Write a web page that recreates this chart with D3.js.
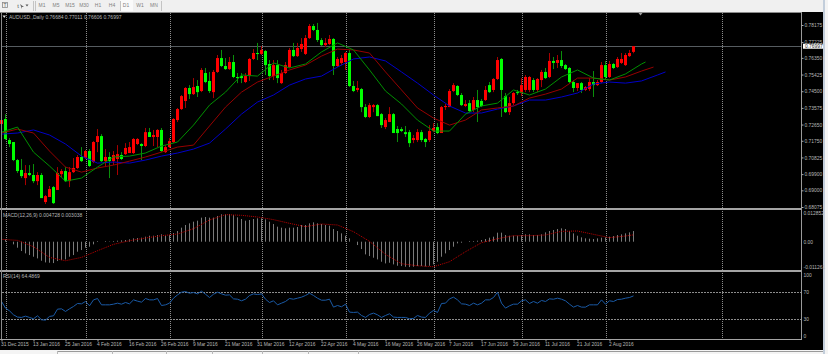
<!DOCTYPE html>
<html>
<head>
<meta charset="utf-8">
<script src="https://cdnjs.cloudflare.com/ajax/libs/d3/7.8.5/d3.min.js"></script>
<style>
html, body { margin:0; padding:0; background:#000; overflow:hidden; }
text { font-family:"Liberation Sans", Arial, sans-serif; }
</style>
</head>
<body>
<div id="chart"></div>
<script>
// ---------- data
var barOpen = [.7268,.7296,.7179,.7168,.7068,.7013,.6968,.6996,.6985,.6951,.6985,.6835,.6863,.6918,.6902,.6990,.7007,.6951,.7001,.7024,
.7085,.7079,.7118,.7057,.7168,.7201,.7062,.7085,.7062,.7074,.7096,.7101,.7107,.7107,.7157,.7157,.7146,.7223,.7196,.7196,
.7235,.7112,.7140,.7168,.7290,.7351,.7396,.7468,.7434,.7479,.7451,.7551,.7507,.7445,.7557,.7634,.7590,.7573,.7612,.7529,
.7534,.7501,.7534,.7629,.7662,.7657,.7673,.7601,.7534,.7595,.7495,.7551,.7584,.7679,.7645,.7684,.7657,.7745,.7812,.7790,
.7734,.7706,.7712,.7740,.7590,.7607,.7612,.7662,.7479,.7457,.7462,.7362,.7307,.7362,.7373,.7323,.7251,.7279,.7323,.7240,
.7240,.7223,.7223,.7179,.7179,.7223,.7185,.7179,.7229,.7251,.7218,.7362,.7362,.7451,.7479,.7429,.7368,.7384,.7346,.7401,
.7396,.7401,.7484,.7457,.7518,.7629,.7423,.7334,.7384,.7445,.7440,.7457,.7457,.7512,.7457,.7512,.7557,.7529,.7618,.7607,
.7623,.7595,.7579,.7501,.7468,.7495,.7457,.7462,.7501,.7484,.7501,.7595,.7529,.7601,.7584,.7607,.7595,.7645,.76684];

var barHigh = [.7301,.7323,.7190,.7168,.7074,.7074,.7040,.7040,.7046,.7001,.6996,.6874,.6924,.6924,.7029,.7018,.7029,.7029,.7079,.7096,
.7140,.7124,.7129,.7173,.7240,.7212,.7129,.7112,.7118,.7151,.7112,.7162,.7168,.7190,.7190,.7162,.7246,.7246,.7235,.7240,
.7246,.7151,.7190,.7301,.7357,.7429,.7473,.7484,.7523,.7512,.7579,.7579,.7557,.7568,.7651,.7679,.7634,.7640,.7651,.7551,
.7551,.7551,.7634,.7684,.7718,.7701,.7679,.7623,.7623,.7623,.7568,.7612,.7690,.7718,.7718,.7745,.7762,.7823,.7823,.7829,
.7745,.7745,.7762,.7745,.7640,.7651,.7668,.7679,.7507,.7507,.7468,.7379,.7384,.7379,.7379,.7329,.7301,.7362,.7329,.7257,
.7251,.7257,.7235,.7207,.7240,.7235,.7190,.7262,.7273,.7273,.7368,.7379,.7462,.7495,.7484,.7440,.7401,.7401,.7418,.7457,
.7407,.7479,.7501,.7523,.7640,.7634,.7440,.7418,.7445,.7457,.7523,.7540,.7534,.7523,.7523,.7568,.7579,.7662,.7640,.7651,
.7673,.7601,.7584,.7512,.7495,.7501,.7479,.7523,.7562,.7512,.7612,.7618,.7618,.7607,.7640,.7662,.7662,.7679,.77011];

var barLow = [.7251,.7179,.7140,.7062,.6996,.6968,.6929,.6979,.6940,.6929,.6857,.6824,.6863,.6824,.6902,.6974,.6946,.6918,.6996,.7018,
.7057,.7074,.7029,.7051,.7112,.7057,.7029,.6968,.7040,.6985,.7068,.7096,.7107,.7101,.7151,.7068,.7140,.7196,.7146,.7140,
.7112,.7107,.7135,.7162,.7279,.7346,.7357,.7407,.7429,.7418,.7445,.7495,.7440,.7412,.7551,.7584,.7568,.7568,.7523,.7495,
.7495,.7495,.7507,.7623,.7623,.7651,.7540,.7512,.7512,.7495,.7490,.7546,.7579,.7640,.7640,.7668,.7651,.7740,.7784,.7723,
.7701,.7695,.7706,.7540,.7584,.7595,.7568,.7473,.7445,.7445,.7334,.7301,.7301,.7334,.7312,.7246,.7240,.7279,.7218,.7168,
.7223,.7196,.7140,.7162,.7168,.7168,.7140,.7168,.7223,.7212,.7218,.7346,.7362,.7445,.7423,.7368,.7362,.7334,.7334,.7279,
.7362,.7396,.7440,.7445,.7512,.7307,.7329,.7318,.7373,.7429,.7423,.7445,.7445,.7445,.7445,.7473,.7518,.7523,.7573,.7579,
.7579,.7568,.7495,.7445,.7451,.7440,.7451,.7451,.7418,.7479,.7495,.7512,.7523,.7573,.7579,.7601,.7590,.7640,.76606];

var barClose = [.7290,.7185,.7157,.7068,.7007,.6979,.6996,.6985,.6951,.6985,.6857,.6868,.6907,.6829,.6996,.7007,.6951,.7001,.7024,.7085,
.7062,.7118,.7035,.7168,.7201,.7062,.7085,.7062,.7096,.7101,.7074,.7135,.7140,.7185,.7185,.7146,.7223,.7196,.7207,.7235,
.7118,.7140,.7173,.7296,.7351,.7423,.7468,.7434,.7473,.7445,.7568,.7501,.7451,.7557,.7634,.7590,.7573,.7612,.7529,.7523,
.7523,.7534,.7629,.7662,.7657,.7679,.7595,.7534,.7595,.7523,.7551,.7595,.7679,.7645,.7690,.7712,.7745,.7812,.7790,.7734,
.7706,.7718,.7740,.7590,.7629,.7634,.7662,.7479,.7451,.7468,.7362,.7307,.7373,.7373,.7312,.7262,.7290,.7323,.7218,.7218,
.7229,.7212,.7162,.7190,.7223,.7179,.7168,.7229,.7246,.7218,.7362,.7368,.7451,.7484,.7429,.7373,.7379,.7340,.7401,.7362,
.7368,.7457,.7445,.7518,.7623,.7457,.7334,.7384,.7440,.7440,.7484,.7529,.7529,.7457,.7518,.7557,.7523,.7618,.7607,.7623,
.7590,.7573,.7501,.7468,.7495,.7457,.7473,.7501,.7484,.7501,.7595,.7529,.7601,.7579,.7629,.7629,.7651,.7662,.76997];

// moving averages, one reading every 4 bars plus the line ends
var fastMaBars = d3.range(0,161,4).concat([161]);
var fastMa = [.7223,.7251,.7112,.7035,.6951,.6968,.7029,.7085,.7090,.7107,.7146,.7168,.7262,.7373,.7445,.7540,.7534,.7607,.7579,.7601,
.7668,.7718,.7679,.7568,.7451,.7379,.7290,.7229,.7229,.7323,.7368,.7384,.7457,.7429,.7462,.7529,.7568,.7523,.7512,.7546,.7601,.7612];

var midMaBars = d3.range(0,161,4).concat([163]);
var midMa = [.7218,.7240,.7218,.7118,.7029,.7001,.7024,.7040,.7062,.7085,.7112,.7140,.7151,.7257,.7362,.7445,.7501,.7534,.7568,.7595,
.7645,.7684,.7679,.7662,.7557,.7457,.7357,.7301,.7262,.7290,.7346,.7357,.7368,.7412,.7434,.7462,.7523,.7523,.7512,.7529,.7562,.7584];

var slowMaBars = d3.range(0,161,4).concat([164,166]);
var slowMa = [.7212,.7218,.7235,.7207,.7157,.7090,.7051,.7057,.7051,.7068,.7090,.7107,.7129,.7162,.7240,.7323,.7390,.7429,.7484,.7518,
.7534,.7584,.7629,.7640,.7618,.7557,.7495,.7429,.7368,.7329,.7329,.7351,.7368,.7401,.7401,.7418,.7440,.7490,.7501,.7495,.7507,.7540,.7557];

var macdHist = [.00148,.00104,0,-.00118,-.00266,-.00414,-.00518,-.00592,-.00666,-.00740,-.00844,-.00918,-.00932,-.00947,-.00858,-.00814,-.00784,-.00666,-.00592,-.00444,
-.00370,-.00266,-.00222,-.00118,.00030,0,.00030,.00015,.00030,.00044,.00059,.00074,.00104,.00148,.00163,.00178,.00222,.00266,.00266,.00296,
.00326,.00266,.00296,.00385,.00474,.00622,.00740,.00814,.00888,.00932,.01066,.01095,.01066,.01066,.01140,.01214,.01214,.01228,.01184,.01080,
.01006,.00932,.00962,.01006,.01036,.01036,.00992,.00888,.00784,.00666,.00622,.00592,.00622,.00622,.00651,.00740,.00740,.00814,.00858,.00814,
.00784,.00740,.00710,.00562,.00474,.00370,.00266,.00148,0,-.00148,-.00326,-.00562,-.00636,-.00710,-.00784,-.00888,-.00962,-.00932,-.01006,-.01066,
-.01080,-.01110,-.01125,-.01110,-.01080,-.01080,-.01095,-.01066,-.01006,-.00888,-.00666,-.00518,-.00370,-.00222,-.00074,-.00044,0,.00030,.00030,.00044,
.00074,.00118,.00178,.00222,.00400,.00400,.00296,.00266,.00266,.00266,.00296,.00326,.00326,.00296,.00296,.00326,.00414,.00474,.00518,.00562,
.00592,.00562,.00474,.00370,.00266,.00192,.00148,.00133,.00118,.00148,.00178,.00192,.00222,.00252,.00296,.00326,.00370,.00414,.004728];

var macdSignalBars = d3.range(0,157,4).concat([158]);
var macdSignal = [.00104,.00059,-.00222,-.00696,-.00844,-.00696,-.00400,-.00118,.00044,.00163,.00266,.00340,.00577,.00962,.01199,.01169,.01095,.00977,.00814,.00666,
.00784,.00740,.00444,.00015,-.00562,-.00977,-.01066,-.01110,-.00888,-.00444,-.00044,.00133,.00266,.00266,.00296,.00459,.00474,.00326,.00178,.00252,.003038];

var rsiValues = [56.2,46.3,42.3,36.4,33.0,32.5,34.4,32.5,30.5,34.9,29.0,28.5,34.0,34.9,44.8,45.3,41.4,45.3,48.8,53.2,
52.7,56.2,49.8,58.6,60.6,51.2,51.2,51.2,52.2,53.7,52.2,54.7,52.7,58.6,56.7,55.2,60.6,58.6,58.6,60.6,
50.2,51.2,53.7,61.1,66.0,70.0,71.0,68.5,69.5,67.5,71.5,67.0,62.1,67.0,70.0,67.5,65.6,66.0,60.1,59.6,
57.2,59.6,65.1,67.5,66.5,67.5,59.6,54.7,57.2,51.2,53.7,56.2,60.6,59.6,61.1,62.6,65.1,68.5,65.1,61.1,
58.1,58.1,59.6,47.8,50.2,48.3,52.2,40.4,39.9,40.4,35.4,32.5,36.9,38.9,36.4,32.5,35.4,37.9,33.0,32.5,
32.5,32.5,30.5,31.0,35.4,33.0,32.5,38.9,42.8,39.9,53.2,53.7,60.1,62.6,58.6,52.7,52.2,50.2,53.7,51.2,
53.7,58.6,58.6,62.1,70.0,53.7,46.3,49.8,52.2,52.2,57.2,58.6,53.2,56.2,53.7,57.7,56.2,60.1,59.6,61.1,
59.6,57.2,52.2,47.8,50.2,47.8,47.8,51.2,51.2,51.2,58.6,52.2,57.2,56.2,59.1,59.6,61.1,62.1,64.49];

var dateLabels = ["31 Dec 2015","13 Jan 2016","25 Jan 2016","4 Feb 2016","16 Feb 2016","26 Feb 2016","9 Mar 2016","21 Mar 2016","31 Mar 2016","12 Apr 2016",
"22 Apr 2016","4 May 2016","16 May 2016","26 May 2016","7 Jun 2016","17 Jun 2016","29 Jun 2016","11 Jul 2016","21 Jul 2016","2 Aug 2016"];
var dateBars = d3.range(0,153,8);
var gridBars = [1,21,42,65,86,108,130,151,180];

var priceTicks = [.78175,.77225,.76350,.75425,.74500,.73575,.72650,.71750,.70825,.69900,.69000,.68075];
var macdTicks = [.012852,0,-.011261];
var macdTickLabels = ["0.012852","0.00","-0.011261"];
var rsiTicks = [100,70,30,0];
var rsiLevels = [70,30];
var lastPrice = .76997;
var timeframes = ["M1","M5","M15","M30","H1","H4","D1","W1","MN"];

var w = 828, h = 354;
var plotRight = 801.5;
var labelColor = "#b8b8b8";

var svg = d3.select("#chart")
    .append("svg")
    .attr("width", w)
    .attr("height", h)
    .style("display", "block");

svg.append("rect").attr("width", w).attr("height", h).attr("fill", "#000");

// ---------- scales
var x = d3.scaleLinear().domain([0,200]).range([1.5,801.5]);
var yPrice = d3.scaleLinear().domain([.68075,.78175]).range([207,25]);
var yMacd = d3.scaleLinear().domain([-.011261,.012852]).range([267.1,212.7]);
var yRsi = d3.scaleLinear().domain([0,100]).range([339.3,272]);

// ---------- window frame around the chart
svg.append("rect").attr("width", w).attr("height", 12).attr("fill", "#f0f0f0");
svg.append("rect").attr("x", 120).attr("y", 0).attr("width", 13).attr("height", 11).attr("fill", "#fafafa");
[33,35,120,161].forEach(function(d){
    svg.append("line").attr("x1", d+.5).attr("x2", d+.5).attr("y1", 1).attr("y2", 11)
        .attr("stroke", "#c4c4c4").attr("stroke-width", 1);
});
svg.append("rect").attr("x", 2.5).attr("y", 2.5).attr("width", 5).attr("height", 5)
    .attr("fill", "none").attr("stroke", "#8a8a8a").attr("stroke-width", .8);
svg.append("text").attr("x", 5).attr("y", 7).attr("font-size", 5).attr("text-anchor", "middle").attr("fill", "#666").text("T");
svg.append("text").attr("x", 18).attr("y", 7.5).attr("font-size", 6).attr("text-anchor", "middle").attr("fill", "#555").text("t");
svg.append("path").attr("d", "M20,4 l4,3 l-2,0 l0,2 z").attr("fill", "#666");
svg.append("path").attr("d", "M25.5,4.5 l3,0 l-1.5,2 z").attr("fill", "#555");

svg.selectAll(".timeframe")
    .data(timeframes)
    .enter()
    .append("text")
    .attr("class", "timeframe")
    .attr("x", function(d,i){ return 42 + i*14; })
    .attr("y", 7)
    .attr("font-size", 5)
    .attr("text-anchor", "middle")
    .attr("fill", "#808080")
    .text(function(d){ return d; });

// bottom tabs and right scrollbar
svg.append("rect").attr("y", 350).attr("width", w).attr("height", 4).attr("fill", "#f4f4f4");
svg.append("line").attr("x1", 57).attr("x2", 823).attr("y1", 351.5).attr("y2", 351.5).attr("stroke", "#9a9a9a");
[57,112,166,212,262,308,358].forEach(function(d){
    svg.append("line").attr("x1", d+.5).attr("x2", d+.5).attr("y1", 351).attr("y2", 354).attr("stroke", "#b8b8b8");
});
svg.append("rect").attr("x", 823).attr("width", 5).attr("height", h).attr("fill", "#f4f4f4");
svg.append("rect").attr("x", 823).attr("y", 0).attr("width", 2).attr("height", h).attr("fill", "#c3cedb");

// ---------- grid
svg.selectAll(".grid")
    .data(gridBars)
    .enter()
    .append("line")
    .attr("class", "grid")
    .attr("x1", function(d){ return Math.round(x(d)) + .5; })
    .attr("x2", function(d){ return Math.round(x(d)) + .5; })
    .attr("y1", 13)
    .attr("y2", 339)
    .attr("stroke", "#8c8c8c")
    .attr("stroke-width", 1)
    .attr("stroke-dasharray", "1,1");

svg.selectAll(".rsi-level")
    .data(rsiLevels)
    .enter()
    .append("line")
    .attr("class", "rsi-level")
    .attr("x1", 2)
    .attr("x2", plotRight)
    .attr("y1", function(d){ return Math.round(yRsi(d)) + .5; })
    .attr("y2", function(d){ return Math.round(yRsi(d)) + .5; })
    .attr("stroke", "#8c8c8c")
    .attr("stroke-width", 1)
    .attr("stroke-dasharray", "2,1");

// price line
svg.append("line")
    .attr("x1", 1)
    .attr("x2", plotRight)
    .attr("y1", Math.round(yPrice(lastPrice)) + .5)
    .attr("y2", Math.round(yPrice(lastPrice)) + .5)
    .attr("stroke", "#565c60")
    .attr("stroke-width", 1);

// ---------- candles
var candles = svg.append("g").attr("class", "candles");
var upColor = "#ff0000", downColor = "#00ff00";
var upWick = "#a80000", downWick = "#0a8f0a";

barOpen.forEach(function(o,i){
    var up = barClose[i] >= o;
    candles.append("line")
        .attr("x1", x(i))
        .attr("x2", x(i))
        .attr("y1", yPrice(barHigh[i]))
        .attr("y2", yPrice(barLow[i]))
        .attr("stroke", up ? upWick : downWick)
        .attr("stroke-width", 1);

    candles.append("rect")
        .attr("x", x(i) - 1.5)
        .attr("y", yPrice(Math.max(o, barClose[i])))
        .attr("width", 3)
        .attr("height", Math.max(1, Math.abs(yPrice(o) - yPrice(barClose[i]))))
        .attr("fill", up ? upColor : downColor);
});

// ---------- moving averages
function maLine(bars, values, color) {
    var line = d3.line()
        .x(function(d,i){ return x(bars[i]); })
        .y(function(d){ return yPrice(d); });
    svg.append("path")
        .attr("d", line(values))
        .attr("fill", "none")
        .attr("stroke", color)
        .attr("stroke-width", 1);
}
maLine(slowMaBars, slowMa, "#0000c8");
maLine(midMaBars, midMa, "#960000");
maLine(fastMaBars, fastMa, "#009000");

// ---------- MACD
svg.selectAll(".macd-bar")
    .data(macdHist)
    .enter()
    .append("rect")
    .attr("class", "macd-bar")
    .attr("x", function(d,i){ return x(i) - .5; })
    .attr("y", function(d){ return Math.min(yMacd(d), yMacd(0)); })
    .attr("width", 1)
    .attr("height", function(d){ return Math.abs(yMacd(d) - yMacd(0)); })
    .attr("fill", "#7a7a7a");

var signalLine = d3.line()
    .x(function(d,i){ return x(macdSignalBars[i]); })
    .y(function(d){ return yMacd(d); });
svg.append("path")
    .attr("d", signalLine(macdSignal))
    .attr("fill", "none")
    .attr("stroke", "#c00000")
    .attr("stroke-width", 1)
    .attr("stroke-dasharray", "1,1");

// ---------- RSI
var rsiLine = d3.line()
    .x(function(d,i){ return x(i); })
    .y(function(d){ return yRsi(d); });
svg.append("path")
    .attr("d", rsiLine(rsiValues))
    .attr("fill", "none")
    .attr("stroke", "#1a5aa6")
    .attr("stroke-width", 1);

// ---------- panel separators and outer lines
[208,270].forEach(function(d){
    svg.append("rect").attr("x", 0).attr("y", d).attr("width", plotRight + .5).attr("height", 2).attr("fill", "#a4a4a4");
});
svg.append("line").attr("x1", 1.5).attr("x2", 1.5).attr("y1", 12).attr("y2", 340).attr("stroke", "#8a8a8a");
svg.append("line").attr("x1", 0).attr("x2", plotRight).attr("y1", 12.5).attr("y2", 12.5).attr("stroke", "#8a8a8a");
svg.append("line").attr("x1", plotRight).attr("x2", plotRight).attr("y1", 12).attr("y2", 340).attr("stroke", "#9a9a9a");
svg.append("line").attr("x1", 0).attr("x2", plotRight).attr("y1", 339.5).attr("y2", 339.5).attr("stroke", "#a4a4a4");

// ---------- axes
function styleAxis(g) {
    g.select(".domain").remove();
    g.selectAll("line").attr("stroke", "#a8a8a8");
    g.selectAll("text")
        .attr("fill", labelColor)
        .attr("font-size", 4.9)
        .attr("font-family", "Liberation Sans, Arial, sans-serif");
}

var priceAxis = d3.axisRight(yPrice)
    .tickValues(priceTicks)
    .tickSize(2)
    .tickPadding(1)
    .tickFormat(d3.format(".5f"));
svg.append("g")
    .attr("transform", "translate(" + plotRight + ",0)")
    .call(priceAxis)
    .call(styleAxis);

var macdAxis = d3.axisRight(yMacd)
    .tickValues(macdTicks)
    .tickSize(0)
    .tickPadding(2)
    .tickFormat(function(d,i){ return macdTickLabels[i]; });
svg.append("g")
    .attr("transform", "translate(" + plotRight + ",0)")
    .call(macdAxis)
    .call(styleAxis);

var rsiAxis = d3.axisRight(yRsi)
    .tickValues(rsiTicks)
    .tickSize(0)
    .tickPadding(2);
svg.append("g")
    .attr("transform", "translate(" + plotRight + ",0)")
    .call(rsiAxis)
    .call(styleAxis)
    .selectAll("text")
    .attr("y", function(d){ return d == 100 ? 3 : (d == 0 ? -3 : 0); });

var timeAxis = d3.axisBottom(x)
    .tickValues(dateBars)
    .tickSize(2)
    .tickPadding(1)
    .tickFormat(function(d,i){ return dateLabels[i]; });
svg.append("g")
    .attr("transform", "translate(0,339.5)")
    .call(timeAxis)
    .call(styleAxis)
    .selectAll("text")
    .attr("text-anchor", "start")
    .attr("x", -1);

// current price tag
svg.append("rect")
    .attr("x", plotRight + 1.5)
    .attr("y", yPrice(lastPrice) - 2.5)
    .attr("width", 20)
    .attr("height", 5)
    .attr("fill", "#fff");
svg.append("text")
    .attr("x", plotRight + 3.5)
    .attr("y", yPrice(lastPrice) + 1.9)
    .attr("font-size", 4.9)
    .attr("fill", "#222")
    .text(d3.format(".5f")(lastPrice));

// ---------- panel captions
var captions = [
    { text:"AUDUSD.,Daily  0.76684 0.77011 0.76606 0.76997", x:9, y:18.8 },
    { text:"MACD(12,26,9) 0.004728 0.003038", x:3, y:216.8 },
    { text:"RSI(14) 64.4869", x:3, y:277.7 }
];
svg.selectAll(".caption")
    .data(captions)
    .enter()
    .append("text")
    .attr("class", "caption")
    .attr("x", function(d){ return d.x; })
    .attr("y", function(d){ return d.y; })
    .attr("font-size", 5)
    .attr("fill", labelColor)
    .text(function(d){ return d.text; });

svg.append("path").attr("d", "M2.5,15.5 l3.5,0 l-1.75,2.5 z").attr("fill", "#ddd");
svg.append("path").attr("d", "M638.5,13 l4,0 l-2,2.5 z").attr("fill", "#a0a0a0");
</script>
</body>
</html>
